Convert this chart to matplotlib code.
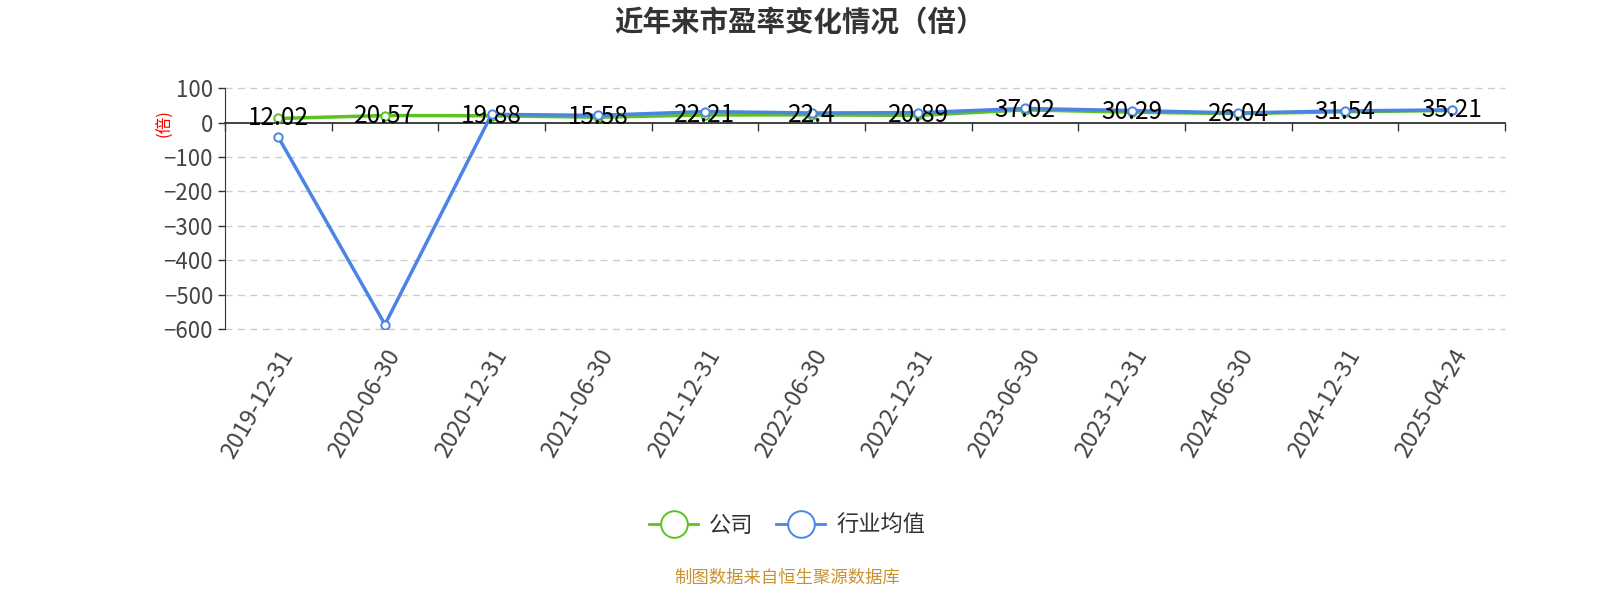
import matplotlib.pyplot as plt
import numpy as np

plt.rcParams['font.family'] = ['Noto Sans CJK SC', 'DejaVu Sans']

dates = ['2019-12-31', '2020-06-30', '2020-12-31', '2021-06-30', '2021-12-31', '2022-06-30',
         '2022-12-31', '2023-06-30', '2023-12-31', '2024-06-30', '2024-12-31', '2025-04-24']
company_pe = [12.02, 20.57, 19.88, 15.58, 22.21, 22.4, 20.89, 37.02, 30.29, 26.04, 31.54, 35.21]
industry_pe = [-42, -587, 24, 21, 32, 28, 29, 41, 35, 28, 34, 37]
y_ticks = [100, 0, -100, -200, -300, -400, -500, -600]

green = '#5ac31f'
blue = '#4c84e6'

fig = plt.figure(figsize=(16, 6), dpi=100)
ax = fig.add_axes([0.1406, 0.4517, 0.8, 0.4013])

x = np.arange(len(dates))
ax.plot(x, company_pe, color=green, lw=2.5, marker='o', ms=6, mfc='white', mec=green, mew=1.4,
        label='公司', zorder=3)
ax.plot(x, industry_pe, color=blue, lw=2.5, marker='o', ms=6, mfc='white', mec=blue, mew=1.4,
        label='行业均值', zorder=4)

for xi, v in zip(x, company_pe):
    ax.text(xi, v, f'{v:g}', ha='center', va='center', fontsize=17.5, color='black', zorder=5)

ax.set_xlim(-0.5, len(dates) - 0.5)
ax.set_ylim(-600, 100)
ax.set_yticks(y_ticks)
ax.tick_params(axis='y', labelsize=16, colors='#333333', length=5, width=1, direction='out')
for t in ax.get_yticklabels():
    t.set_color('#444444')
for yv in y_ticks:
    if yv != 0:
        ax.axhline(yv, color='#cccccc', lw=1, ls=(0, (5, 4)), zorder=0, clip_on=False)

# x axis line at y = 0 with ticks between categories
ax.spines['bottom'].set_position(('data', 0))
ax.spines['bottom'].set_color('#333333')
ax.spines['bottom'].set_linewidth(1.3)
ax.set_xticks(np.arange(-0.5, len(dates), 1.0))
ax.tick_params(axis='x', direction='out', length=6, width=1, color='#333333', labelbottom=False)

# category labels at the bottom of the plot
lab = ax.secondary_xaxis(0)
lab.set_xticks(x)
lab.set_xticklabels(dates, rotation=60, ha='right', rotation_mode='anchor', fontsize=17, color='#444444')
lab.tick_params(axis='x', length=0, pad=12)
lab.spines['bottom'].set_visible(False)

for s in ['top', 'right']:
    ax.spines[s].set_visible(False)
ax.spines['left'].set_color('#333333')

ax.set_ylabel('(倍)', color='red', fontsize=12, labelpad=2)
ax.yaxis.set_label_coords(-0.041, 0.857)

fig.suptitle('近年来市盈率变化情况（倍）', fontsize=20.5, fontweight='bold', color='#333333', y=0.985)

fig.legend(loc='center', bbox_to_anchor=(0.492, 0.125), ncol=2, frameon=False, fontsize=16,
           handlelength=2.2, markerscale=3.2, columnspacing=1.0, handletextpad=0.5,
           labelcolor='#333333')
for h in fig.legends[0].legend_handles:
    h.set_linewidth(2)

fig.text(0.492, 0.037, '制图数据来自恒生聚源数据库', ha='center', va='center', fontsize=12.5, color='#c8922e')

fig.savefig('out.png', dpi=100)
